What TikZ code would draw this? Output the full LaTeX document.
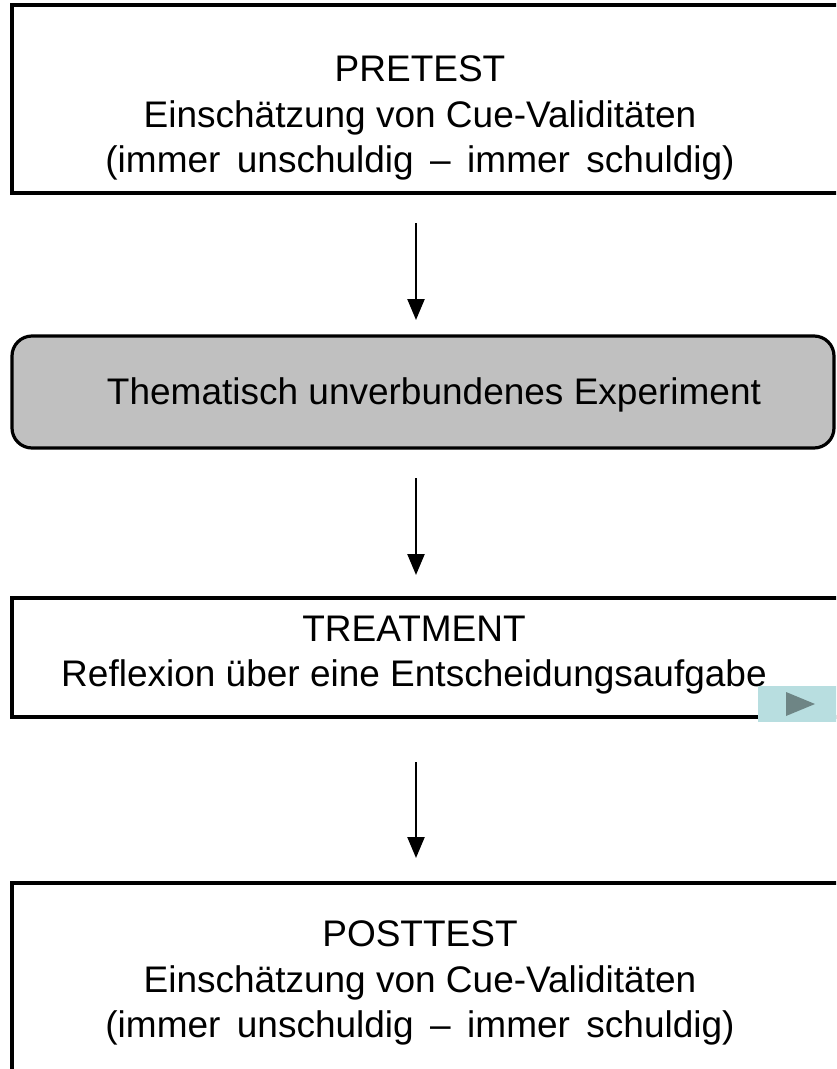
\documentclass[tikz,border=0pt]{standalone}
\usepackage{fontspec}
\setmainfont{Liberation Sans}
\usetikzlibrary{arrows.meta}
\definecolor{stagegray}{RGB}{192,192,192}
\definecolor{playbg}{RGB}{184,222,224}
\definecolor{playfg}{RGB}{110,133,133}
\tikzset{
  stagebox/.style={draw,line width=3.2pt,outer sep=0pt,inner sep=0pt,anchor=north west},
  stagetext/.style={align=center,font=\fontsize{37}{45.5}\selectfont},
  flow/.style={line width=2.4pt,-{Triangle[width=17pt,length=21pt]}}
}
\begin{document}
\begin{tikzpicture}[x=1pt,y=-1pt]
  \useasboundingbox (0,0) rectangle (836,1069);
  \clip (0,0) rectangle (836,1069);

  % boxes
  \node[stagebox,minimum width=900pt,minimum height=188pt] (pretest) at (12,5) {};
  \node[stagebox,fill=stagegray,rounded corners=20pt,minimum width=822pt,minimum height=112pt] (unrelated) at (12,336) {};
  \node[stagebox,minimum width=900pt,minimum height=119pt] (treatment) at (12,598) {};
  \node[stagebox,minimum width=900pt,minimum height=300pt] (posttest) at (12,883) {};

  % texts
  \node[stagetext] (pretesttxt) at (420,118) {PRETEST\\
    Einschätzung von Cue-Validitäten\\
    (immer\, unschuldig\, –\, immer\, schuldig)};
  \node[stagetext] (unrelatedtxt) at (434,395) {Thematisch unverbundenes Experiment};
  \node[stagetext] (treatmenttxt) at (414,655) {TREATMENT\\
    Reflexion über eine Entscheidungsaufgabe};
  \node[stagetext] (posttesttxt) at (420,983) {POSTTEST\\
    Einschätzung von Cue-Validitäten\\
    (immer\, unschuldig\, –\, immer\, schuldig)};

  % arrows
  \coordinate (axis) at (416,0);
  \draw[flow,shorten <=30pt,shorten >=16pt] (pretest.south -| axis) -- (unrelated.north -| axis);
  \draw[flow,shorten <=30pt,shorten >=23pt] (unrelated.south -| axis) -- (treatment.north -| axis);
  \draw[flow,shorten <=45pt,shorten >=25pt] (treatment.south -| axis) -- (posttest.north -| axis);

  % play button
  \node[fill=playbg,anchor=north west,minimum width=90pt,minimum height=36pt,inner sep=0pt] (playbtn) at (758,686) {};
  \fill[playfg] (786,692) -- (815,704) -- (786,716) -- cycle;
\end{tikzpicture}
\end{document}
